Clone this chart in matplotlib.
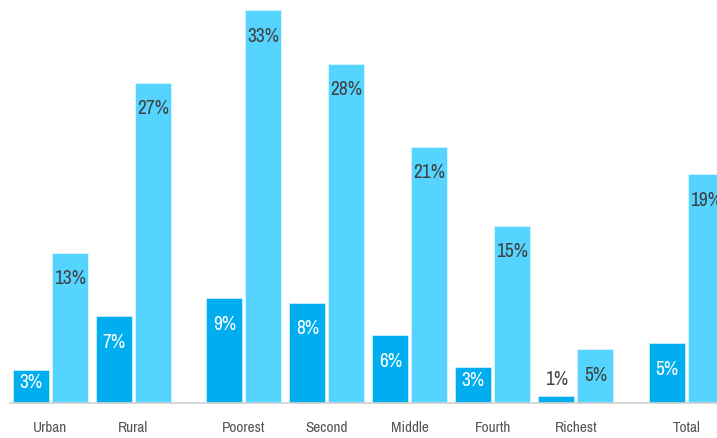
import matplotlib
matplotlib.use("Agg")
import matplotlib.pyplot as plt

plt.rcParams['font.family'] = ['Archivo Narrow', 'DejaVu Sans']

categories = ["Urban", "Rural", "Poorest", "Second", "Middle", "Fourth", "Richest", "Total"]
positions = [0, 1, 2.33, 3.33, 4.33, 5.33, 6.33, 7.66]
series_a = [2.8, 7.3, 8.8, 8.4, 5.7, 3.0, 0.6, 5.0]
series_b = [12.6, 26.9, 33.0, 28.5, 21.5, 14.9, 4.5, 19.2]
labels_a = ["3%", "7%", "9%", "8%", "6%", "3%", "1%", "5%"]
labels_b = ["13%", "27%", "33%", "28%", "21%", "15%", "5%", "19%"]

dark = "#00AEEF"
light = "#55D4FF"

fig = plt.figure(figsize=(7.17, 4.38), dpi=100)
ax = fig.add_axes([0, 0.0799, 1, 0.9201])

w = 0.434
off = 0.235
xa = [p - off for p in positions]
xb = [p + off for p in positions]
ax.bar(xa, series_a, width=w, color=dark, edgecolor="#c8f0ff", linewidth=0.6, zorder=2)
ax.bar(xb, series_b, width=w, color=light, edgecolor="#d8f5ff", linewidth=0.6, zorder=2)


def label_y(v):
    if v < 2:
        return v + 1.35   # too short, label sits above
    if v < 4:
        return v - 1.1
    return v - 2.18


for x, v, t in zip(xa, series_a, labels_a):
    col = "#444444" if v < 2 else "white"
    ax.text(x, label_y(v), t, ha="center", va="center", fontsize=14, color=col)
for x, v, t in zip(xb, series_b, labels_b):
    ax.text(x, label_y(v), t, ha="center", va="center", fontsize=14, color="#404040")

ax.set_xlim(-0.608, 8.03)
ax.set_ylim(0, 33.85)
ax.set_xticks(positions)
ax.set_xticklabels(categories, fontsize=11, color="#555555")
ax.tick_params(axis="x", length=0, pad=13)
ax.set_yticks([])
for s in ["top", "left", "right"]:
    ax.spines[s].set_visible(False)
ax.spines["bottom"].set_color("#d0d0d0")
ax.spines["bottom"].set_linewidth(1.2)
ax.spines["bottom"].set_bounds(-0.488, 8.03)

fig.savefig("out.png", dpi=100)
